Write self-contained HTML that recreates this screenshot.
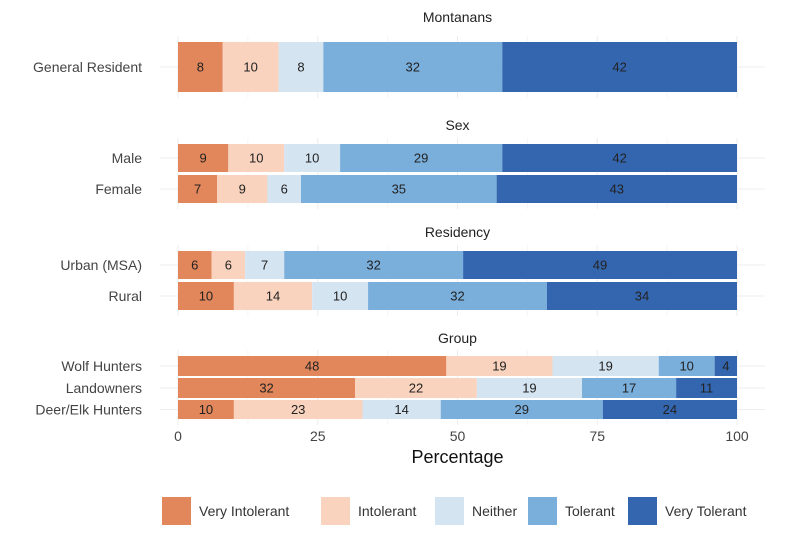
<!DOCTYPE html>
<html><head><meta charset="utf-8"><style>
body{margin:0;background:#fff;}
svg{display:block;font-family:"Liberation Sans",sans-serif;}
</style></head><body>
<svg id="chart" width="786" height="540"></svg>
<script>
const categories=["Very Intolerant","Intolerant","Neither","Tolerant","Very Tolerant"];
const colors=["#e2875b","#f9d3bd","#d5e4f1","#7aaedb","#3466b0"];
const panels=["Montanans","Sex","Residency","Group"];
const rowLabels=["General Resident","Male","Female","Urban (MSA)","Rural","Wolf Hunters","Landowners","Deer/Elk Hunters"];
const rowPanel=[0,1,1,2,2,3,3,3];
const veryIntolerant=[8,9,7,6,10,48,32,10];
const intolerant=[10,10,9,6,14,19,22,23];
const neither=[8,10,6,7,10,19,19,14];
const tolerant=[32,29,35,32,32,10,17,29];
const veryTolerant=[42,42,43,49,34,4,11,24];
const xTicks=[0,25,50,75,100];
const series=[veryIntolerant,intolerant,neither,tolerant,veryTolerant];

const NS="http://www.w3.org/2000/svg";
const svg=document.getElementById('chart');
function mk(t,a,p){const e=document.createElementNS(NS,t);for(const k in a)e.setAttribute(k,a[k]);(p||svg).appendChild(e);return e;}
const x0=178,x1=737;
const xs=v=>x0+(x1-x0)*v/100;
// layout per row: [top,height]
const rowGeom=[[42,50],[144,28],[175,28],[251,28],[282,28],[356,20],[378,20],[400,19]];
const panelTitleY=[22,130,237,343];
const panelRange=[[36,98],[138,209],[245,316],[350,425]];
// grid
panels.forEach((p,i)=>{
  const [a,b]=panelRange[i];
  xTicks.forEach(t=>{const l=mk('line',{x1:xs(t),x2:xs(t),y1:a,y2:b,stroke:'#ececec','stroke-width':1});
    });
  [12.5,37.5,62.5,87.5].forEach(t=>{mk('line',{x1:xs(t),x2:xs(t),y1:a,y2:b,stroke:'#f5f5f5','stroke-width':1});});
  const tt=mk('text',{x:(x0+x1)/2,y:panelTitleY[i],'text-anchor':'middle','font-size':14,fill:'#222'});
  tt.textContent=p;
  
  
});
rowLabels.forEach((lab,r)=>{
  const [top,h]=rowGeom[r];
  const gl=mk('line',{x1:160,x2:765,y1:top+h/2,y2:top+h/2,stroke:'#eeeeee'});
  let total=0;series.forEach(s=>total+=s[r]);
  let cum=0;
  series.forEach((s,k)=>{
    const v=s[r];
    const xa=xs(cum/total*100),xb=xs((cum+v)/total*100);
    const rect=mk('rect',{x:xa,y:top,width:xb-xa,height:h,fill:colors[k]});
    
    
    const t=mk('text',{x:(xa+xb)/2,y:top+h/2+4.5,'text-anchor':'middle','font-size':13,fill:'#222'});
    t.textContent=v;
    
    
    cum+=v;
  });
  const l=mk('text',{x:142,y:top+h/2+5,'text-anchor':'end','font-size':14,fill:'#444'});
  l.textContent=lab;
  
  
});
xTicks.forEach(t=>{
  const e=mk('text',{x:xs(t),y:441,'text-anchor':'middle','font-size':14,fill:'#444'});
  e.textContent=t;
  
  
});
const xt=mk('text',{x:(x0+x1)/2,y:463,'text-anchor':'middle','font-size':18,fill:'#111'});
xt.textContent='Percentage';


// legend
const legX=[162,321,435,528,628];
categories.forEach((c,k)=>{
  const g=mk('g',{});
  
  
  mk('rect',{x:legX[k],y:497,width:29,height:28,fill:colors[k]},g);
  const t=mk('text',{x:legX[k]+37,y:516,'font-size':14,fill:'#333'},g);
  t.textContent=c;
});
</script>
</body></html>
